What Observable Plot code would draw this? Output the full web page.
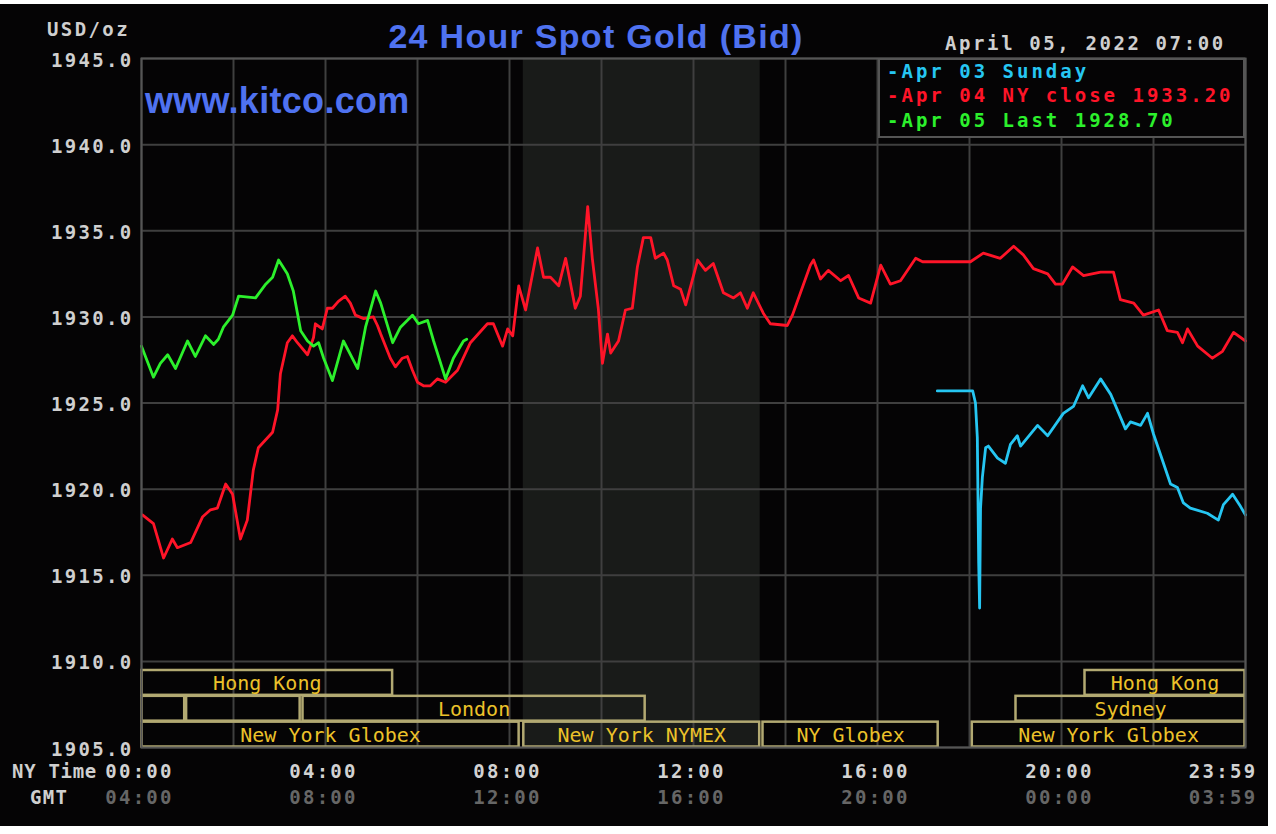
<!DOCTYPE html>
<html>
<head>
<meta charset="utf-8">
<script src="https://cdn.jsdelivr.net/npm/d3@7"></script>
<script src="https://cdn.jsdelivr.net/npm/@observablehq/plot@0.6"></script>
<style>
html, body { margin: 0; padding: 0; background: #ffffff; }
#chart { position: absolute; left: 0; top: 4px; width: 1268px; height: 822px; background: #050405; overflow: hidden; }
#chart svg { position: absolute; left: 0; top: 0; }
.abs { position: absolute; white-space: nowrap; line-height: 1; }
.mono { font-family: "DejaVu Sans Mono", monospace; font-weight: bold; font-size: 19px; letter-spacing: 2.4px; color: #cfcfcf; }
.sans { font-family: "Liberation Sans", Arial, sans-serif; font-weight: bold; color: #4f72f0; }
#legend { position: absolute; left: 878px; top: 54px; width: 367px; height: 80px; box-sizing: border-box; border: 2px solid #555; background: #050405; }
#chart svg g[fill="#ecc22a"] { letter-spacing: 0px; }
</style>
</head>
<body>
<div id="chart"></div>
<script>
// ---------- data ----------
const yTicks = [1905, 1910, 1915, 1920, 1925, 1930, 1935, 1940, 1945];
const gridHours = [0, 2, 4, 6, 8, 10, 12, 14, 16, 18, 20, 22, 24];
const labelHours = [0, 4, 8, 12, 16, 20, 24];
const nyLabels = ["00:00", "04:00", "08:00", "12:00", "16:00", "20:00", "23:59"];
const gmtLabels = ["04:00", "08:00", "12:00", "16:00", "20:00", "00:00", "03:59"];

// trading sessions (NY time, hours); row 1 = top, row 3 = bottom
const sessionNames = ["Hong Kong", "", "", "London", "New York Globex", "New York NYMEX", "NY Globex", "New York Globex", "Sydney", "Hong Kong"];
const sessionRows  = [1, 2, 2, 2, 3, 3, 3, 3, 2, 1];
const sessionStart = [0, 0, 0.97, 3.5, 0, 8.3, 13.5, 18.05, 19.0, 20.5];
const sessionEnd   = [5.47, 0.95, 3.46, 10.96, 8.22, 13.45, 17.33, 24, 24, 24];

// Apr 04 (NY close 1933.20)
const redHours = [0.02,0.26,0.48,0.67,0.78,1.07,1.33,1.50,1.65,1.83,1.98,2.15,2.30,2.43,2.54,2.85,2.96,3.02,3.17,3.28,3.39,3.61,3.74,3.78,3.93,4.04,4.15,4.28,4.43,4.54,4.65,4.83,5.04,5.13,5.20,5.41,5.52,5.67,5.78,5.89,6.00,6.13,6.28,6.43,6.61,6.87,7.15,7.52,7.65,7.85,7.96,8.07,8.20,8.35,8.61,8.74,8.89,9.07,9.22,9.43,9.54,9.70,9.80,9.93,10.02,10.13,10.20,10.37,10.52,10.67,10.78,10.91,11.07,11.17,11.35,11.43,11.57,11.72,11.83,12.09,12.26,12.43,12.65,12.87,13.02,13.17,13.30,13.52,13.67,14.04,14.15,14.54,14.61,14.76,14.93,15.20,15.37,15.59,15.85,16.07,16.28,16.50,16.83,16.98,18.02,18.30,18.67,18.96,19.17,19.39,19.70,19.87,20.02,20.24,20.48,20.85,21.13,21.28,21.57,21.78,22.11,22.30,22.52,22.63,22.74,22.96,23.28,23.50,23.74,24.00];
const redValues = [1918.5,1918.0,1916.0,1917.1,1916.6,1916.9,1918.4,1918.8,1918.9,1920.3,1919.7,1917.1,1918.2,1921.1,1922.4,1923.3,1924.6,1926.7,1928.5,1928.9,1928.5,1927.8,1928.8,1929.6,1929.3,1930.5,1930.5,1930.9,1931.2,1930.8,1930.1,1929.9,1930.0,1929.5,1929.0,1927.6,1927.1,1927.6,1927.7,1926.9,1926.2,1926.0,1926.0,1926.4,1926.2,1926.9,1928.5,1929.6,1929.6,1928.3,1929.3,1928.9,1931.8,1930.4,1934.0,1932.3,1932.3,1931.8,1933.4,1930.5,1931.2,1936.4,1933.4,1930.5,1927.3,1929.0,1927.9,1928.6,1930.4,1930.5,1932.9,1934.6,1934.6,1933.4,1933.7,1933.3,1931.8,1931.6,1930.7,1933.3,1932.7,1933.1,1931.4,1931.1,1931.4,1930.5,1931.4,1930.2,1929.6,1929.5,1930.1,1933.0,1933.3,1932.2,1932.7,1932.1,1932.4,1931.1,1930.8,1933.0,1931.9,1932.1,1933.4,1933.2,1933.2,1933.7,1933.4,1934.1,1933.6,1932.8,1932.5,1931.9,1931.9,1932.9,1932.4,1932.6,1932.6,1931.0,1930.8,1930.1,1930.4,1929.2,1929.1,1928.5,1929.3,1928.3,1927.6,1928.0,1929.1,1928.6];

// Apr 05 (Last 1928.70)
const greenHours = [0.00,0.26,0.41,0.57,0.74,1.00,1.17,1.39,1.57,1.67,1.78,1.98,2.11,2.48,2.70,2.85,2.98,3.17,3.30,3.46,3.61,3.74,3.85,3.96,4.15,4.39,4.70,4.87,5.09,5.20,5.46,5.63,5.89,6.02,6.22,6.35,6.61,6.78,7.00,7.07];
const greenValues = [1928.3,1926.5,1927.3,1927.8,1927.0,1928.6,1927.7,1928.9,1928.4,1928.7,1929.4,1930.1,1931.2,1931.1,1931.9,1932.3,1933.3,1932.5,1931.5,1929.2,1928.6,1928.3,1928.5,1927.6,1926.3,1928.6,1927.0,1929.4,1931.5,1930.8,1928.5,1929.4,1930.1,1929.6,1929.8,1928.6,1926.4,1927.6,1928.6,1928.7];

// Apr 03 Sunday
const cyanHours = [17.30,18.07,18.13,18.17,18.20,18.22,18.24,18.28,18.35,18.41,18.61,18.78,18.89,19.04,19.11,19.48,19.70,20.04,20.26,20.46,20.59,20.85,21.07,21.39,21.50,21.72,21.87,22.00,22.37,22.52,22.65,22.80,23.17,23.41,23.52,23.72,23.89,24.00];
const cyanValues = [1925.7,1925.7,1925.0,1923.0,1915.7,1913.1,1918.9,1920.7,1922.4,1922.5,1921.8,1921.5,1922.6,1923.1,1922.5,1923.7,1923.1,1924.4,1924.8,1926.0,1925.3,1926.4,1925.5,1923.5,1923.9,1923.7,1924.4,1923.2,1920.3,1920.1,1919.2,1918.9,1918.6,1918.2,1919.1,1919.7,1919.0,1918.5];

const legendLabels = ["-Apr 03 Sunday", "-Apr 04 NY close 1933.20", "-Apr 05 Last 1928.70"];
const seriesColors = ["#26c6f2", "#ff1428", "#2cf02c"];

// ---------- build tables ----------
const toRows = (hs, vs) => hs.map((h, i) => ({h, v: vs[i]}));
const cyan = toRows(cyanHours, cyanValues);
const red = toRows(redHours, redValues);
const green = toRows(greenHours, greenValues);
const sessions = sessionNames.map((name, i) => ({name, row: sessionRows[i], start: sessionStart[i], end: sessionEnd[i]}));
const nymex = sessions.filter(d => d.name === "New York NYMEX");
const rowBottom = r => 1905 + (3 - r) * 1.5;

const fmtTick = d => d.toFixed(1);
const mid = labelHours.slice(0, -1);
const last = labelHours.slice(-1);

const svg = Plot.plot({
  width: 1268,
  height: 822,
  marginLeft: 141,
  marginRight: 23,
  marginTop: 54,
  marginBottom: 79,
  x: {domain: [0, 24], axis: null},
  y: {domain: [1905, 1945]},
  style: {
    background: "transparent",
    color: "#cfcfcf",
    fontFamily: "'DejaVu Sans Mono', monospace",
    fontSize: "19px",
    fontWeight: "bold",
    letterSpacing: "2.3px",
    overflow: "visible"
  },
  marks: [
    Plot.rect(nymex, {x1: "start", x2: "end", fill: "#191b19"}),
    Plot.gridX(gridHours, {stroke: "#3f3f3f", strokeOpacity: 1, strokeWidth: 2}),
    Plot.gridY(yTicks, {stroke: "#3f3f3f", strokeOpacity: 1, strokeWidth: 2}),
    Plot.rect(sessions, {
      x1: "start", x2: "end",
      y1: d => rowBottom(d.row), y2: d => rowBottom(d.row) + 1.5,
      fill: "none", stroke: "#b2a972", strokeWidth: 2.5, inset: 0.5
    }),
    Plot.text(sessions.filter(d => d.name), {
      x: d => (d.start + d.end) / 2,
      y: d => rowBottom(d.row) + 0.75,
      text: "name", fill: "#ecc22a", fontSize: 20, fontWeight: "normal", dy: 1
    }),
    Plot.line(cyan, {x: "h", y: "v", stroke: seriesColors[0], strokeWidth: 2.8}),
    Plot.line(red, {x: "h", y: "v", stroke: seriesColors[1], strokeWidth: 2.8}),
    Plot.line(green, {x: "h", y: "v", stroke: seriesColors[2], strokeWidth: 2.8}),
    Plot.frame({stroke: "#555", strokeWidth: 2}),
    Plot.axisY(yTicks, {tickFormat: fmtTick, tickSize: 0, tickPadding: 8, fontSize: 19, fill: "#cfcfcf", dy: 2, label: null}),
    Plot.text(mid, {x: d => d, text: (d, i) => nyLabels[i], frameAnchor: "bottom", dy: 30, dx: -2, fill: "#d2d2d2"}),
    Plot.text(last, {x: d => d, text: () => nyLabels[nyLabels.length - 1], frameAnchor: "bottom", dy: 30, dx: 12, textAnchor: "end", fill: "#d2d2d2"}),
    Plot.text(mid, {x: d => d, text: (d, i) => gmtLabels[i], frameAnchor: "bottom", dy: 56, dx: -2, fill: "#666"}),
    Plot.text(last, {x: d => d, text: () => gmtLabels[gmtLabels.length - 1], frameAnchor: "bottom", dy: 56, dx: 12, textAnchor: "end", fill: "#666"})
  ]
});

const chart = document.getElementById("chart");
chart.appendChild(svg);

function addText(txt, cls, css) {
  const el = document.createElement("div");
  el.className = "abs " + cls;
  el.textContent = txt;
  Object.assign(el.style, css);
  chart.appendChild(el);
  return el;
}

addText("USD/oz", "mono", {left: "47px", top: "16px"});
addText("24 Hour Spot Gold (Bid)", "sans", {left: "596px", top: "15px", fontSize: "34px", letterSpacing: "1.3px", transform: "translateX(-50%)"});
addText("www.kitco.com", "sans", {left: "145px", top: "79px", fontSize: "36px", letterSpacing: "0.3px"});
addText("April 05, 2022 07:00", "mono", {left: "945px", top: "30px", letterSpacing: "2.6px"});
addText("NY Time", "mono", {left: "12px", top: "758px", letterSpacing: "0.7px"});
addText("GMT", "mono", {left: "30px", top: "784px", letterSpacing: "1.3px"});

const legend = document.createElement("div");
legend.id = "legend";
chart.appendChild(legend);
const legendTops = [2, 26, 51];
legendLabels.forEach((t, i) => {
  const el = document.createElement("div");
  el.className = "abs mono";
  el.textContent = t;
  Object.assign(el.style, {left: "7px", top: legendTops[i] + "px", color: seriesColors[i], letterSpacing: "3px"});
  legend.appendChild(el);
});
</script>
</body>
</html>
